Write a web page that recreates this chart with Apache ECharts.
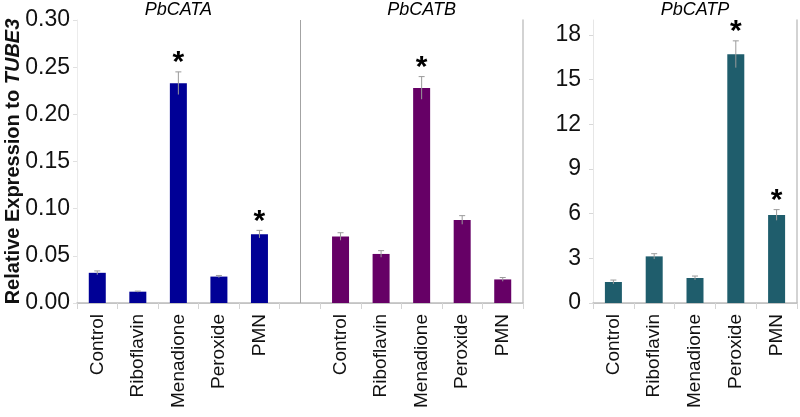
<!DOCTYPE html>
<html>
<head>
<meta charset="utf-8">
<script src="https://cdn.jsdelivr.net/npm/echarts@6/dist/echarts.min.js"></script>
<style>
html,body{margin:0;padding:0;background:#fff;}
#chart{width:800px;height:417px;}
</style>
</head>
<body>
<div id="chart"></div>
<script>
// ---- data ----
const treatments = ['Control', 'Riboflavin', 'Menadione', 'Peroxide', 'PMN'];
const panelTitles = ['PbCATA', 'PbCATB', 'PbCATP'];
const catA = [0.032, 0.012, 0.233, 0.028, 0.073];
const errA = [0.002, 0.0006, 0.012, 0.0012, 0.004];
const sigA = [0, 0, 1, 0, 1];
const catB = [0.0705, 0.052, 0.228, 0.088, 0.025];
const errB = [0.004, 0.0035, 0.012, 0.0046, 0.002];
const sigB = [0, 0, 1, 0, 0];
const catP = [1.41, 3.13, 1.68, 16.7, 5.91];
const errP = [0.13, 0.18, 0.13, 0.9, 0.36];
const sigP = [0, 0, 0, 1, 1];
const leftAxisMax = 0.30, leftAxisStep = 0.05;
const rightAxisMax = 19, rightAxisStep = 3;
const yTitle = 'Relative Expression to ';
const yTitleGene = 'TUBE3';

// ---- build ----
const n = treatments.length;
const leftCats = treatments.concat([''], treatments);
const gapIndex = n;
const mid = Math.floor(n / 2);
const leftTop = leftCats.map((_, i) => i === mid ? panelTitles[0] : (i === n + 1 + mid ? panelTitles[1] : ''));
const rightTop = treatments.map((_, i) => i === mid ? panelTitles[2] : '');

const barA = leftCats.map((_, i) => i < n ? catA[i] : '-');
const barB = leftCats.map((_, i) => i > n ? catB[i - n - 1] : '-');
const errLeft = [];
catA.forEach((v, i) => errLeft.push([i, v, errA[i], sigA[i]]));
catB.forEach((v, i) => errLeft.push([i + n + 1, v, errB[i], sigB[i]]));
const errRight = catP.map((v, i) => [i, v, errP[i], sigP[i]]);

const FONT = '"Liberation Sans", Arial, sans-serif';
const colA = '#000096', colB = '#660066', colP = '#1f5d6c';

function renderErr(params, api) {
  const x = api.value(0), v = api.value(1), e = api.value(2), s = api.value(3);
  const top = api.coord([x, v + e]);
  const bot = api.coord([x, v - e]);
  const cw = 3;
  const style = { stroke: '#9a9a9a', lineWidth: 1 };
  const children = [
    { type: 'line', shape: { x1: top[0], y1: top[1], x2: bot[0], y2: bot[1] }, style },
    { type: 'line', shape: { x1: top[0] - cw, y1: top[1], x2: top[0] + cw, y2: top[1] }, style }
  ];
  if (s) {
    children.push({
      type: 'text',
      style: { text: '*', x: top[0], y: top[1] - 9, align: 'center', verticalAlign: 'middle',
               font: 'bold 30px ' + FONT, fill: '#000' }
    });
  }
  return { type: 'group', children };
}

const catLabel = { rotate: 90, fontSize: 19, color: '#111', margin: 11, interval: 0, fontFamily: FONT };
const topLabel = { fontSize: 18, fontStyle: 'italic', color: '#000', margin: 1, interval: 0, fontFamily: FONT };
const valLabel = { fontSize: 23, color: '#111', margin: 7, fontFamily: FONT };

const option = {
  animation: false,
  backgroundColor: '#fff',
  grid: [
    { left: 77, top: 20, width: 446, height: 283, outerBoundsMode: 'none', containLabel: false },
    { left: 593, top: 20, width: 204, height: 283, outerBoundsMode: 'none', containLabel: false }
  ],
  xAxis: [
    { type: 'category', gridIndex: 0, data: leftCats, position: 'bottom',
      axisLine: { lineStyle: { color: '#d4d4d4', width: 1 } },
      axisTick: { show: true, alignWithLabel: false, length: 6, lineStyle: { color: '#d4d4d4' } },
      axisLabel: catLabel },
    { type: 'category', gridIndex: 0, data: leftTop, position: 'top',
      axisLine: { lineStyle: { color: '#bdbdbd', width: 1.5 } },
      axisTick: { show: false }, axisLabel: topLabel },
    { type: 'category', gridIndex: 1, data: treatments, position: 'bottom',
      axisLine: { lineStyle: { color: '#d4d4d4', width: 1 } },
      axisTick: { show: true, alignWithLabel: false, length: 6, lineStyle: { color: '#d4d4d4' } },
      axisLabel: catLabel },
    { type: 'category', gridIndex: 1, data: rightTop, position: 'top',
      axisLine: { lineStyle: { color: '#bdbdbd', width: 1.5 } },
      axisTick: { show: false }, axisLabel: topLabel }
  ],
  yAxis: [
    { type: 'value', gridIndex: 0, min: 0, max: leftAxisMax, interval: leftAxisStep, position: 'left',
      axisLine: { show: true, lineStyle: { color: '#ececec' } },
      axisTick: { show: true, length: 4, lineStyle: { color: '#e0e0e0' } },
      splitLine: { show: false },
      axisLabel: Object.assign({ formatter: v => v.toFixed(2) }, valLabel),
      name: '{a|' + yTitle + '}{b|' + yTitleGene + '}', nameLocation: 'middle', nameRotate: 90, nameGap: 54,
      nameMoveOverlap: false,
      nameTextStyle: { rich: {
        a: { fontSize: 20, fontWeight: 'bold', color: '#111', fontFamily: FONT },
        b: { fontSize: 20, fontWeight: 'bold', fontStyle: 'italic', color: '#111', fontFamily: FONT }
      } } },
    { type: 'value', gridIndex: 0, min: 0, max: 1, position: 'right',
      axisLine: { show: true, lineStyle: { color: '#c4c4c4', width: 1.5 } },
      axisTick: { show: false }, axisLabel: { show: false }, splitLine: { show: false } },
    { type: 'value', gridIndex: 1, min: 0, max: rightAxisMax, interval: rightAxisStep, position: 'left',
      axisLine: { show: true, lineStyle: { color: '#e6e6e6' } },
      axisTick: { show: true, length: 4, lineStyle: { color: '#d8d8d8' } },
      splitLine: { show: false },
      axisLabel: Object.assign({ showMaxLabel: false }, valLabel, { margin: 12 }) },
    { type: 'value', gridIndex: 1, min: 0, max: 1, position: 'right',
      axisLine: { show: true, lineStyle: { color: '#c4c4c4', width: 1.5 } },
      axisTick: { show: false }, axisLabel: { show: false }, splitLine: { show: false } }
  ],
  series: [
    { type: 'bar', xAxisIndex: 0, yAxisIndex: 0, data: barA, barWidth: 17, barGap: '-100%',
      itemStyle: { color: colA },
      markLine: { silent: true, symbol: 'none', label: { show: false },
        lineStyle: { color: '#a3a3a3', width: 1, type: 'solid' },
        data: [{ xAxis: gapIndex }] } },
    { type: 'bar', xAxisIndex: 0, yAxisIndex: 0, data: barB, barWidth: 17, barGap: '-100%',
      itemStyle: { color: colB } },
    { type: 'custom', xAxisIndex: 0, yAxisIndex: 0, data: errLeft, renderItem: renderErr,
      encode: { x: 0, y: 1 }, z: 5 },
    { type: 'bar', xAxisIndex: 2, yAxisIndex: 2, data: catP, barWidth: 17,
      itemStyle: { color: colP } },
    { type: 'custom', xAxisIndex: 2, yAxisIndex: 2, data: errRight, renderItem: renderErr,
      encode: { x: 0, y: 1 }, z: 5 }
  ]
};

const chart = echarts.init(document.getElementById('chart'), null, { renderer: 'canvas' });
chart.setOption(option);
</script>
</body>
</html>
